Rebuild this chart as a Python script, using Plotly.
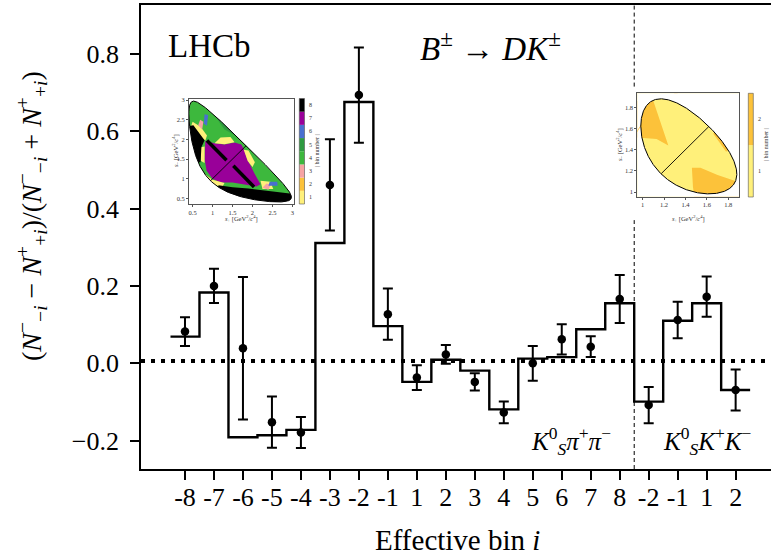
import numpy as np
import plotly.graph_objects as go

# ---------------- data ----------------
bin_labels = ['-8', '-7', '-6', '-5', '-4', '-3', '-2', '-1', '1', '2', '3', '4',
              '5', '6', '7', '8', '-2', '-1', '1', '2']
n_kspipi = 16  # first 16 bins are K0S pi pi, last 4 are K0S K K

asym_data = [0.082, 0.200, 0.039, -0.152, -0.179, 0.461, 0.693, 0.127, -0.037, 0.023,
             -0.048, -0.127, 0.000, 0.062, 0.043, 0.166, -0.108, 0.112, 0.172, -0.069]
asym_err = [0.037, 0.044, 0.184, 0.066, 0.040, 0.118, 0.123, 0.066, 0.032, 0.024,
            0.022, 0.028, 0.045, 0.039, 0.027, 0.062, 0.047, 0.047, 0.052, 0.053]
asym_model = [0.069, 0.183, -0.191, -0.186, -0.172, 0.311, 0.675, 0.096, -0.048, 0.009,
              -0.019, -0.119, 0.012, 0.016, 0.088, 0.155, -0.099, 0.110, 0.155, -0.069]
ref_level = 0.006

y_ticks = [-0.2, 0.0, 0.2, 0.4, 0.6, 0.8]

# inset Dalitz-plot tick values
inset1_ticks = [0.5, 1.0, 1.5, 2.0, 2.5, 3.0]
inset2_ticks = [1.0, 1.2, 1.4, 1.6, 1.8]
inset1_bins = ['1', '2', '3', '4', '5', '6', '7', '8']
inset2_bins = ['1', '2']

# ---------------- geometry helpers ----------------
W, H = 771, 556
ML, MR, MT, MB = 141, 0, 5, 87
PW, PH = W - ML - MR, H - MT - MB


def px(x):
    return (x - ML) / PW


def py(y):
    return (H - MB - y) / PH


FONT = "Liberation Serif"

x_pos = np.arange(len(bin_labels))
x_range = [-1.518, 20.22]
y_range = [-0.2731, 0.9258]

fig = go.Figure()

# model step histogram
edges = np.arange(len(asym_model) + 1) - 0.5
fig.add_trace(go.Scatter(x=edges, y=list(asym_model) + [asym_model[-1]], mode='lines',
                         line=dict(shape='hv', color='black', width=2.4),
                         showlegend=False, hoverinfo='skip'))
# reference dotted line
fig.add_trace(go.Scatter(x=x_range, y=[ref_level, ref_level], mode='lines',
                         line=dict(color='black', width=4, dash='4px,6px'),
                         showlegend=False, hoverinfo='skip'))
# separator between the two D final states (interrupted by the inset)
sep = n_kspipi - 0.5
fig.add_trace(go.Scatter(x=[sep, sep, None, sep, sep],
                         y=[y_range[0], 0.37, None, 0.715, y_range[1]], mode='lines',
                         line=dict(color='black', width=1, dash='4px,3px'),
                         showlegend=False, hoverinfo='skip'))
# data points
fig.add_trace(go.Scatter(x=x_pos, y=asym_data, mode='markers',
                         marker=dict(color='black', size=8.5, symbol='circle'),
                         error_y=dict(type='data', array=asym_err, color='black',
                                      thickness=2, width=5),
                         showlegend=False))

# ---------------- Dalitz insets ----------------
C = {1: '#fff07a', 2: '#fcc23a', 3: '#f7a3a3', 4: '#3db83d', 5: '#2f9a40',
     6: '#4a6fd0', 7: '#990099', 8: '#000000'}


def dalitz_boundary(M, m1, m2, m3, n=400):
    t = np.linspace(0, np.pi, n)
    smin, smax = (m1 + m2) ** 2, (M - m3) ** 2
    s = smin + (smax - smin) * (1 - np.cos(t)) / 2
    m12 = np.sqrt(s)
    E2 = (s - m1 ** 2 + m2 ** 2) / (2 * m12)
    E3 = (M ** 2 - s - m3 ** 2) / (2 * m12)
    p2 = np.sqrt(np.clip(E2 ** 2 - m2 ** 2, 0, None))
    p3 = np.sqrt(np.clip(E3 ** 2 - m3 ** 2, 0, None))
    lo = (E2 + E3) ** 2 - (p2 + p3) ** 2
    hi = (E2 + E3) ** 2 - (p2 - p3) ** 2
    bx = np.concatenate([s, s[::-1]])
    by = np.concatenate([lo, hi[::-1]])
    inside = (lo <= s) & (s <= hi)
    diag = (s[inside].min(), s[inside].max())
    return bx, by, diag


mD, mKS, mPi, mK = 1.86484, 0.497611, 0.13957, 0.493677


def poly(pts, color, xa, ya):
    xs = [p[0] for p in pts] + [pts[0][0]]
    ys = [p[1] for p in pts] + [pts[0][1]]
    fig.add_trace(go.Scatter(x=xs, y=ys, xaxis=xa, yaxis=ya, mode='lines', fill='toself',
                             fillcolor=color, line=dict(width=0, color=color),
                             showlegend=False, hoverinfo='skip'))


def seg(p0, p1, color, width, xa, ya):
    fig.add_trace(go.Scatter(x=[p0[0], p1[0]], y=[p0[1], p1[1]], xaxis=xa, yaxis=ya,
                             mode='lines', line=dict(color=color, width=width),
                             showlegend=False, hoverinfo='skip'))


def mask_and_outline(bx, by, rng_x, rng_y, xa, ya):
    x0, x1 = rng_x[0] - 1, rng_x[1] + 1
    y0, y1 = rng_y[0] - 1, rng_y[1] + 1
    area = np.sum(bx[:-1] * by[1:] - bx[1:] * by[:-1])
    bxx, byy = (bx, by) if area < 0 else (bx[::-1], by[::-1])
    mx = [x0, x1, x1, x0, x0] + list(bxx) + [bxx[0], x0]
    my = [y0, y0, y1, y1, y0] + list(byy) + [byy[0], y0]
    fig.add_trace(go.Scatter(x=mx, y=my, xaxis=xa, yaxis=ya, mode='lines', fill='toself',
                             fillcolor='white', line=dict(width=0, color='white'),
                             showlegend=False, hoverinfo='skip'))
    fig.add_trace(go.Scatter(x=list(bx) + [bx[0]], y=list(by) + [by[0]], xaxis=xa, yaxis=ya,
                             mode='lines', line=dict(color='black', width=1),
                             showlegend=False, hoverinfo='skip'))


# inset 1 : K0S pi+ pi-
r1x, r1y = [0.41, 3.04], [0.355, 3.03]
b1x, b1y, d1 = dalitz_boundary(mD, mPi, mKS, mPi)
poly([(0.3, 0.3), (3.2, 0.3), (3.2, 3.2), (0.3, 3.2)], C[4], 'x2', 'y2')
poly([(0.95, 2.75), (1.3, 2.25), (1.75, 2.0), (2.2, 1.6), (2.5, 1.25), (2.85, 0.88),
      (3.5, 0.88), (3.5, 3.5), (0.95, 3.5)], C[5], 'x2', 'y2')
poly([(0.82, 1.96), (1.05, 1.9), (1.3, 1.87), (1.55, 1.92), (1.72, 1.87), (1.8, 1.72),
      (1.86, 1.52), (1.95, 1.33), (2.05, 1.13), (2.2, 0.86), (2.1, 0.8), (1.8, 0.85),
      (1.5, 0.9), (1.2, 0.9), (1.0, 1.0), (0.85, 1.2), (0.8, 1.5)], C[7], 'x2', 'y2')
poly([(0.5, 2.45), (0.7, 2.32), (0.86, 2.1), (0.82, 1.97), (0.65, 2.1), (0.45, 2.3)], C[1], 'x2', 'y2')
poly([(1.05, 1.9), (1.3, 1.88), (1.55, 1.93), (1.45, 2.06), (1.2, 2.05)], C[1], 'x2', 'y2')
poly([(1.78, 1.74), (1.9, 1.72), (2.06, 1.42), (2.0, 1.3), (1.88, 1.45)], C[1], 'x2', 'y2')
poly([(0.8, 1.12), (1.0, 0.97), (1.3, 0.89), (1.25, 0.8), (0.9, 0.85)], C[1], 'x2', 'y2')
poly([(2.2, 0.95), (2.45, 0.92), (2.52, 0.74), (2.25, 0.74)], C[1], 'x2', 'y2')
poly([(0.71, 1.8), (0.8, 1.82), (0.8, 1.4), (0.71, 1.45)], C[1], 'x2', 'y2')
poly([(0.64, 2.36), (0.74, 2.25), (0.77, 2.45), (0.69, 2.5)], C[3], 'x2', 'y2')
poly([(2.25, 0.77), (2.4, 0.72), (2.46, 0.85), (2.35, 0.88)], C[3], 'x2', 'y2')
poly([(0.78, 2.4), (0.86, 2.35), (0.89, 2.62), (0.8, 2.64)], C[6], 'x2', 'y2')
poly([(2.4, 0.82), (2.63, 0.82), (2.62, 0.92), (2.43, 0.92)], C[6], 'x2', 'y2')
poly([(0.3, 2.32), (0.52, 2.36), (0.8, 1.98), (0.72, 1.8), (0.7, 1.42), (0.5, 1.4),
      (0.3, 1.6)], C[8], 'x2', 'y2')
poly([(1.15, 0.83), (1.5, 0.78), (1.9, 0.75), (2.25, 0.71), (2.7, 0.65), (3.1, 0.6),
      (3.1, 0.3), (1.0, 0.3)], C[8], 'x2', 'y2')
seg((0.86, 1.97), (1.35, 1.47), 'black', 3.5, 'x2', 'y2')
seg((1.52, 1.33), (2.04, 0.79), 'black', 3.5, 'x2', 'y2')
mask_and_outline(b1x, b1y, r1x, r1y, 'x2', 'y2')
seg((d1[0], d1[0]), (d1[1], d1[1]), 'black', 0.9, 'x2', 'y2')

# inset 2 : K0S K+ K-
r2x, r2y = [0.95, 1.903], [0.956, 1.932]
b2x, b2y, d2 = dalitz_boundary(mD, mK, mKS, mK)
poly([(0.9, 0.9), (2.0, 0.9), (2.0, 2.0), (0.9, 2.0)], C[1], 'x3', 'y3')
poly([(0.9, 1.52), (1.13, 1.5), (1.24, 1.44), (1.17, 1.65), (1.10, 1.86), (0.9, 1.86)],
     C[2], 'x3', 'y3')
poly([(1.46, 1.23), (1.54, 1.23), (1.70, 1.16), (1.88, 1.10), (1.95, 1.05), (1.95, 0.9),
      (1.49, 0.9), (1.47, 1.05)], C[2], 'x3', 'y3')
poly([(1.27, 1.87), (1.45, 1.78), (1.48, 1.82), (1.3, 1.95)], C[2], 'x3', 'y3')
poly([(1.66, 1.55), (1.78, 1.38), (1.83, 1.42), (1.7, 1.62)], C[2], 'x3', 'y3')
mask_and_outline(b2x, b2y, r2x, r2y, 'x3', 'y3')
seg((d2[0], d2[0]), (d2[1], d2[1]), 'black', 0.9, 'x3', 'y3')

# ---------------- layout ----------------
inset_axis = dict(showgrid=False, zeroline=False, showline=True, mirror=True,
                  linecolor='#555', linewidth=0.8, ticks='outside', ticklen=2,
                  tickwidth=0.6, tickcolor='#555',
                  tickfont=dict(family=FONT, size=6.5, color='#333'))

fig.update_layout(
    width=W, height=H, margin=dict(l=ML, r=MR, t=MT, b=MB),
    paper_bgcolor='white', plot_bgcolor='white', showlegend=False,
    font=dict(family=FONT, color='black'),
    xaxis=dict(range=x_range, tickmode='array', tickvals=list(x_pos), ticktext=bin_labels,
               showgrid=False, zeroline=False, showline=True, mirror=True,
               linecolor='black', linewidth=1.8, ticks='outside', ticklen=9,
               tickwidth=1.6, tickcolor='black', ticklabelstandoff=-5,
               tickfont=dict(family=FONT, size=26, color='black')),
    yaxis=dict(range=y_range, tickmode='array', tickvals=y_ticks,
               ticktext=[f"{v:.1f}".replace('-', '\u2212') for v in y_ticks],
               showgrid=False, zeroline=False, showline=True, mirror=False,
               linecolor='black', linewidth=1.8, ticks='outside', ticklen=9,
               tickwidth=1.6, tickcolor='black', ticklabelstandoff=6,
               tickfont=dict(family=FONT, size=26, color='black')),
    xaxis2=dict(domain=[px(189), px(294)], anchor='y2', range=r1x, tickvals=inset1_ticks,
                **inset_axis),
    yaxis2=dict(domain=[py(204), py(99)], anchor='x2', range=r1y, tickvals=inset1_ticks,
                **inset_axis),
    xaxis3=dict(domain=[px(637.3), px(739.3)], anchor='y3', range=r2x, tickvals=inset2_ticks,
                **inset_axis),
    yaxis3=dict(domain=[py(196.7), py(93.3)], anchor='x3', range=r2y, tickvals=inset2_ticks,
                **inset_axis),
)

shapes = []
annotations = []


def note(text, x, y, size, angle=0, xanchor='center', color='black'):
    annotations.append(dict(text=text, xref='paper', yref='paper', x=px(x), y=py(y),
                            showarrow=False, xanchor=xanchor, yanchor='middle',
                            textangle=angle,
                            font=dict(family=FONT, size=size, color=color)))


def colorbar(x0, x1, ytop, ybot, labels, colors, lab_x, title_x):
    n = len(labels)
    h = (ybot - ytop) / n
    for i in range(n):
        yb = ybot - i * h
        yt = yb - h
        shapes.append(dict(type='rect', xref='paper', yref='paper', x0=px(x0), x1=px(x1),
                           y0=py(yb), y1=py(yt), fillcolor=colors[i],
                           line=dict(width=0), layer='above'))
        note(labels[i], lab_x, yb - h / 2, 6, xanchor='left', color='#333')
    shapes.append(dict(type='rect', xref='paper', yref='paper', x0=px(x0), x1=px(x1),
                       y0=py(ybot), y1=py(ytop), line=dict(width=0.6, color='#555'),
                       layer='above'))
    note('| bin number |', title_x, (ytop + ybot) / 2, 6, angle=-90, color='#333')


colorbar(299.3, 304.5, 98.5, 204, inset1_bins, [C[k] for k in range(1, 9)], 306.5, 317)
colorbar(748.3, 753.3, 93.3, 197, inset2_bins, [C[1], C[2]], 755.5, 766)

splus = '<i>s</i><sub>+</sub> [GeV<sup>2</sup>/<i>c</i><sup>4</sup>]'
sminus = '<i>s</i><sub>\u2212</sub> [GeV<sup>2</sup>/<i>c</i><sup>4</sup>]'
note(splus, 241, 219, 6.5, color='#333')
note(sminus, 175, 151, 6.5, angle=-90, color='#333')
note(splus, 688, 218, 6.5, color='#333')
note(sminus, 619, 145, 6.5, angle=-90, color='#333')

note('LHCb', 209, 46, 33)
note('<i>B</i><sup>\u00b1</sup> \u2192 <i>DK</i><sup>\u00b1</sup>', 490, 46, 33)
note('<i>K</i><sup>0</sup><sub><i>S</i></sub><i>\u03c0</i><sup>+</sup><i>\u03c0</i><sup>\u2212</sup>',
     571, 441, 25)
note('<i>K</i><sup>0</sup><sub><i>S</i></sub><i>K</i><sup>+</sup><i>K</i><sup>\u2212</sup>',
     707, 441, 25)
note('(<i>N</i><sup>\u2212</sup><sub>\u2212<i>i</i></sub> \u2212 <i>N</i><sup>+</sup><sub>+<i>i</i></sub>)'
     '/(<i>N</i><sup>\u2212</sup><sub>\u2212<i>i</i></sub> + <i>N</i><sup>+</sup><sub>+<i>i</i></sub>)',
     31, 216, 28, angle=-90)
note('Effective bin <i>i</i>', 457, 540, 29)

fig.update_layout(shapes=shapes, annotations=annotations)
fig.write_html("out.html")
